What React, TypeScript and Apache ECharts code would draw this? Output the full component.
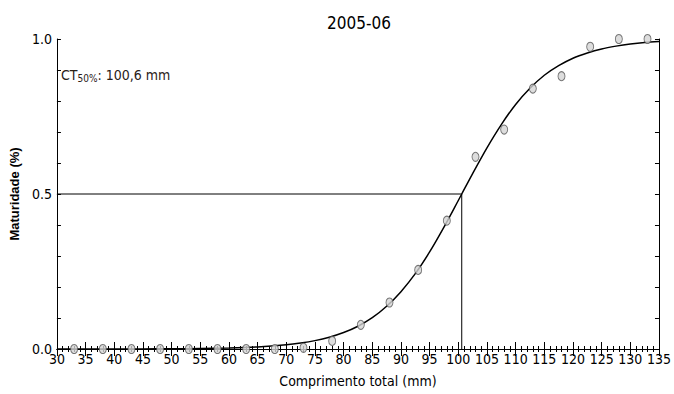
import React, { useEffect, useRef } from "react";
import * as echarts from "echarts";

const titleText = "2005-06";
const xName = "Comprimento total (mm)";
const yName = "Maturidade (%)";
const l50 = 100.6;

// observed proportions mature by length class
const obsLength = [33, 38, 43, 48, 53, 58, 63, 68, 73, 78, 83, 88, 93, 98, 103, 108, 113, 118, 123, 128, 133];
const obsMature = [0, 0, 0, 0, 0, 0, 0, 0, 0.004, 0.026, 0.078, 0.15, 0.255, 0.414, 0.62, 0.708, 0.84, 0.88, 0.975, 1.0, 1.0];

// fitted curve
const curveLength = [30, 35, 40, 45, 50, 55, 60, 65, 70, 72.5, 75, 77.5, 80, 82.5, 85, 87.5, 90, 92.5, 95, 97.5, 100, 100.6, 102.5, 105, 107.5, 110, 112.5, 115, 117.5, 120, 122.5, 125, 127.5, 130, 132.5, 135];
const curveMature = [0.0001, 0.0001, 0.0002, 0.0004, 0.0008, 0.0017, 0.0034, 0.0068, 0.0136, 0.0192, 0.027, 0.038, 0.053, 0.0735, 0.101, 0.138, 0.185, 0.243, 0.313, 0.393, 0.479, 0.5, 0.566, 0.649, 0.724, 0.789, 0.841, 0.883, 0.914, 0.938, 0.955, 0.968, 0.977, 0.984, 0.989, 0.992];

// reference lines at L50
const refX = [30, l50, l50];
const refY = [0.5, 0.5, 0];

const FONT = "'Liberation Sans Narrow', 'Arial Narrow', 'DejaVu Sans Condensed', 'Liberation Sans', sans-serif";

export default function App() {
  const ref = useRef<HTMLDivElement>(null);
  useEffect(() => {
    if (!ref.current) return;
    const chart = echarts.init(ref.current, null, { renderer: "svg" });
    const xCommon = {
      type: "value",
      min: 30,
      max: 135,
      interval: 5,
      axisLine: { show: true, lineStyle: { color: "#000", width: 1 } },
      axisTick: { show: true, inside: true, length: 7, lineStyle: { color: "#000", width: 1 } },
      minorTick: { show: true, splitNumber: 5, length: 3, lineStyle: { color: "#000", width: 1 } },
      splitLine: { show: false },
    };
    const yCommon = {
      type: "value",
      min: 0,
      max: 1,
      interval: 0.5,
      axisLine: { show: true, lineStyle: { color: "#000", width: 1 } },
      axisTick: { show: true, inside: true, length: 4, lineStyle: { color: "#000", width: 1 } },
      minorTick: { show: true, splitNumber: 5, length: 4, lineStyle: { color: "#000", width: 1 } },
      splitLine: { show: false },
    };
    chart.setOption({
      animation: false,
      backgroundColor: "#fff",
      title: {
        text: titleText,
        left: 354,
        top: 9,
        textAlign: "center",
        textStyle: { fontFamily: FONT, fontSize: 17, fontWeight: "normal", color: "#000" },
      },
      grid: { left: 48, right: 12, top: 39, bottom: 45 },
      xAxis: [
        {
          ...xCommon,
          position: "bottom",
          name: xName,
          nameLocation: "middle",
          nameGap: 25,
          nameTextStyle: { fontFamily: FONT, fontSize: 14, color: "#000" },
          axisLabel: { show: true, margin: 3, fontFamily: FONT, fontSize: 14, color: "#000" },
        },
        { ...xCommon, position: "top", axisLabel: { show: false } },
      ],
      yAxis: [
        {
          ...yCommon,
          position: "left",
          name: yName,
          nameLocation: "middle",
          nameGap: 26,
          nameRotate: 90,
          nameTextStyle: { fontFamily: "'Liberation Sans', Arial, sans-serif", fontSize: 13, fontWeight: "bold", color: "#000" },
          axisLabel: {
            show: true,
            margin: 5,
            fontFamily: FONT,
            fontSize: 14,
            color: "#000",
            formatter: (v: number) => v.toFixed(1),
          },
        },
        { ...yCommon, position: "right", axisLabel: { show: false } },
      ],
      graphic: [
        {
          type: "text",
          left: 61,
          top: 68,
          style: {
            text: "{a|CT}{b|50%}{a|: 100,6 mm}",
            rich: {
              a: { fontFamily: FONT, fontSize: 14, fill: "#2a2118" },
              b: { fontFamily: FONT, fontSize: 10, fill: "#2a2118", padding: [6, 0, 0, 0] },
            },
          },
        },
      ],
      series: [
        {
          type: "line",
          data: refX.map((x, i) => [x, refY[i]]),
          showSymbol: false,
          lineStyle: { color: "#000", width: 1 },
          silent: true,
          z: 1,
        },
        {
          type: "line",
          data: curveLength.map((x, i) => [x, curveMature[i]]),
          smooth: 0.3,
          showSymbol: false,
          lineStyle: { color: "#000", width: 1.5 },
          silent: true,
          z: 2,
        },
        {
          type: "scatter",
          data: obsLength.map((x, i) => [x, obsMature[i]]),
          symbol: "circle",
          symbolSize: [7, 9],
          itemStyle: { color: "#d4d4d4", borderColor: "#555", borderWidth: 1 },
          z: 3,
        },
      ],
    });
    return () => chart.dispose();
  }, []);
  return <div ref={ref} style={{ position: "fixed", left: 0, top: 0, width: 674, height: 394 }} />;
}
